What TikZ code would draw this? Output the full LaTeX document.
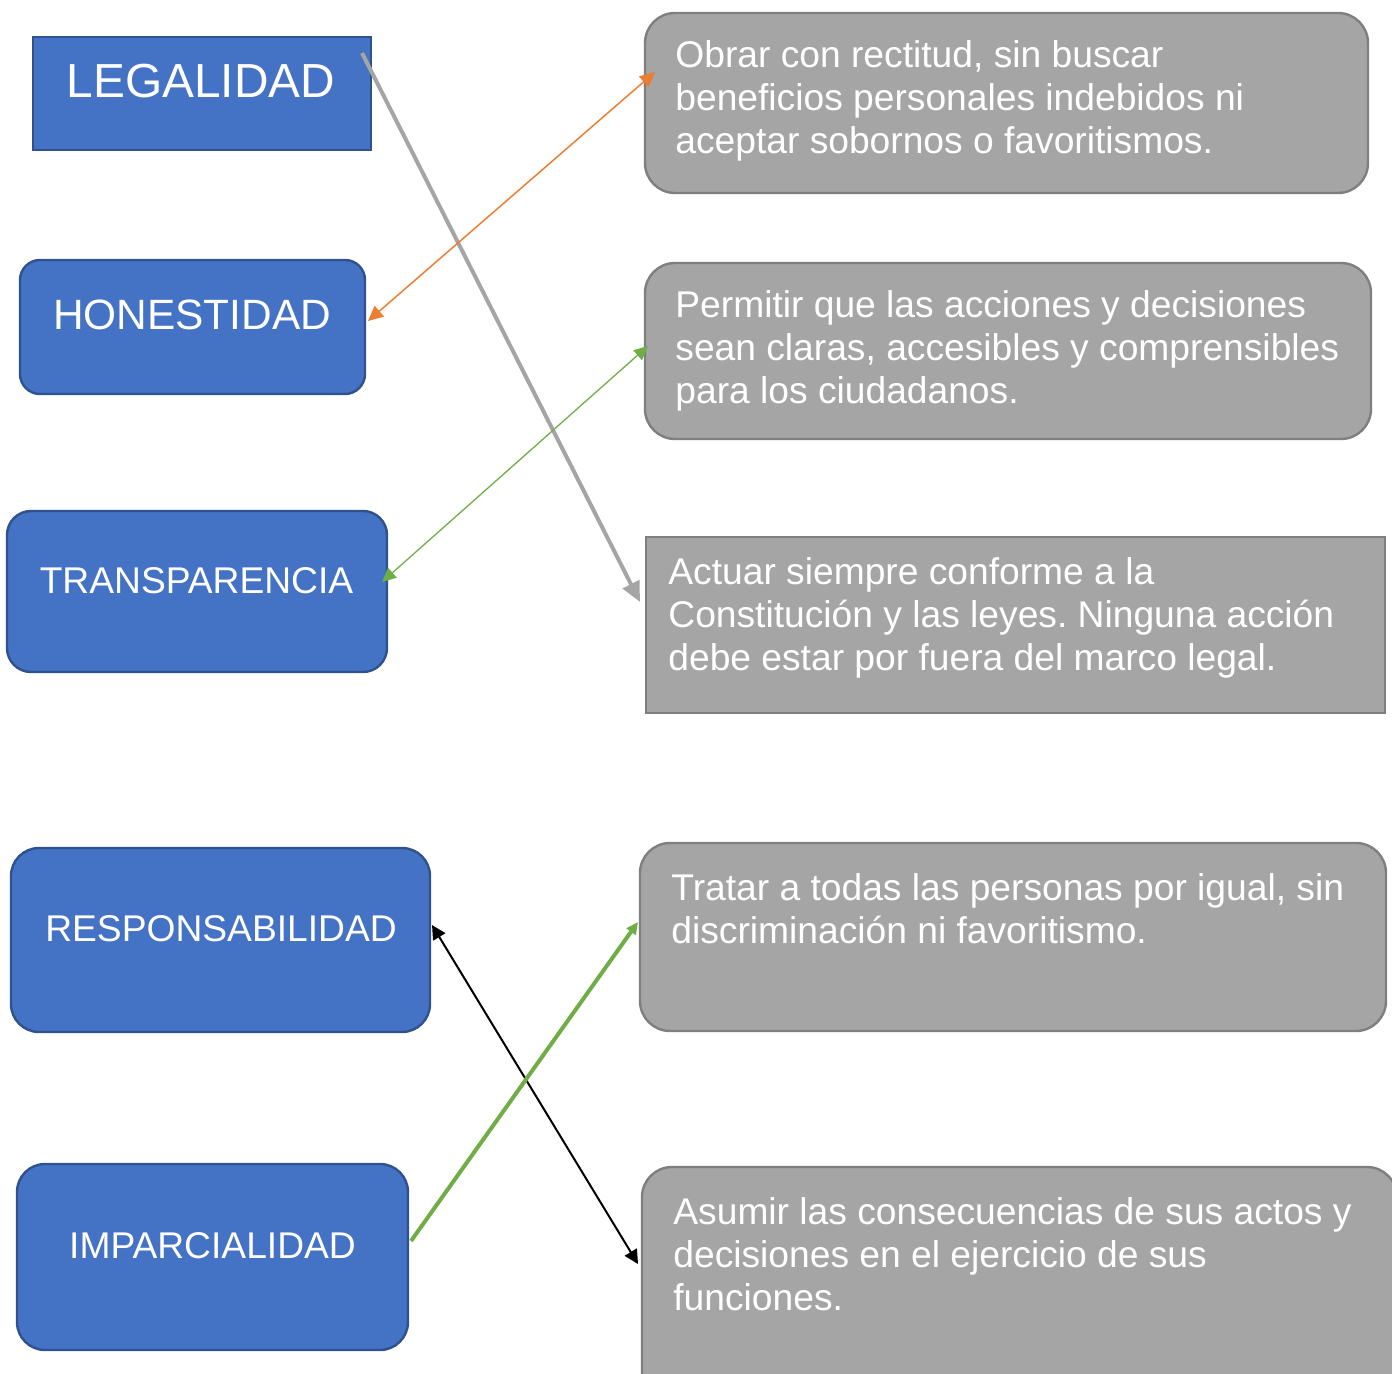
\documentclass[tikz,border=0pt]{standalone}
\usepackage{fontspec}
\setmainfont{Liberation Sans}
\usetikzlibrary{arrows.meta}
\frenchspacing
\definecolor{bfill}{HTML}{4472C4}
\definecolor{bdraw}{HTML}{2F528F}
\definecolor{gfill}{HTML}{A5A5A5}
\definecolor{gdraw}{HTML}{7F7F7F}
\definecolor{orng}{HTML}{ED7D31}
\definecolor{grn}{HTML}{70AD47}
\tikzset{
  bluebox/.style={fill=bfill,draw=bdraw,line width=1.2pt},
  graybox/.style={fill=gfill,draw=gdraw,line width=1.2pt},
  bluetext/.style={text=white,inner sep=0pt,anchor=base},
  graytext/.style={text=white,inner sep=0pt,anchor=base west,align=left,font=\fontsize{18.6}{21.5}\selectfont},
}
\begin{document}
\begin{tikzpicture}[x=0.5pt,y=-0.5pt]
\useasboundingbox (0,0) rectangle (1392,1374);
\begin{scope}
\clip (0,0) rectangle (1392,1374);
% blue boxes
\draw[bluebox] (33,37) rectangle (371,150);
\draw[bluebox,rounded corners=10pt] (20,260) rectangle (365,394);
\draw[bluebox,rounded corners=12pt] (7,511) rectangle (387,672);
\draw[bluebox,rounded corners=14pt] (11,848) rectangle (430,1032);
\draw[bluebox,rounded corners=14pt] (17,1164) rectangle (408,1350);
% gray boxes
\draw[graybox,rounded corners=15pt] (645,13) rectangle (1368,193);
\draw[graybox,rounded corners=15pt] (645,263) rectangle (1371,439);
\draw[graybox] (646,537) rectangle (1385,713);
\draw[graybox,rounded corners=15pt] (640,843) rectangle (1386,1031);
\draw[graybox,rounded corners=15pt] (642,1167) rectangle (1397,1420);
\end{scope}
% blue texts
\node[bluetext,font=\fontsize{23.9}{27}\selectfont] (leg) at (201,98) {LEGALIDAD};
\node[bluetext,font=\fontsize{21.2}{24}\selectfont] (hon) at (192,330) {HONESTIDAD};
\node[bluetext,font=\fontsize{18.6}{21.5}\selectfont] (tra) at (196.5,593) {TRANSPARENCIA};
\node[bluetext,font=\fontsize{18.6}{21.5}\selectfont] (res) at (221,941) {RESPONSABILIDAD};
\node[bluetext,font=\fontsize{18.6}{21.5}\selectfont] (imp) at (212.5,1258) {IMPARCIALIDAD};
% gray texts (anchor = baseline of last line)
\node[graytext] (d1) at (675,154) {Obrar con rectitud, sin buscar\\beneficios personales indebidos ni\\aceptar sobornos o favoritismos.};
\node[graytext] (d2) at (675,404) {Permitir que las acciones y decisiones\\sean claras, accesibles y comprensibles\\para los ciudadanos.};
\node[graytext] (d3) at (668,670) {Actuar siempre conforme a la\\Constitución y las leyes. Ninguna acción\\debe estar por fuera del marco legal.};
\node[graytext] (d4) at (671,943) {Tratar a todas las personas por igual, sin\\discriminación ni favoritismo.};
\node[graytext] (d5) at (673,1310) {Asumir las consecuencias de sus actos y\\decisiones en el ejercicio de sus\\funciones.};
% connector end points
\coordinate (legR) at (362,53);
\coordinate (d3L) at (640,602);
\coordinate (honR) at (368,321);
\coordinate (d1L) at (655,72);
\coordinate (traR) at (382,582);
\coordinate (d2L) at (648,346);
\coordinate (resR) at (432,925);
\coordinate (d5L) at (638,1264);
\coordinate (impR) at (411,1241);
\coordinate (d4L) at (638,922);
% connectors
\draw[gfill,line width=2pt,-{Triangle[length=10pt,width=9pt]}] (legR) -- (d3L);
\draw[orng,line width=0.75pt,{Triangle[length=7.5pt,width=7pt]}-{Triangle[length=7.5pt,width=7pt]}] (honR) -- (d1L);
\draw[grn,line width=0.65pt,{Triangle[length=7pt,width=6.5pt]}-{Triangle[length=7pt,width=6.5pt]}] (traR) -- (d2L);
\draw[black,line width=1pt,{Triangle[length=7pt,width=7pt]}-{Triangle[length=7pt,width=7pt]}] (resR) -- (d5L);
\draw[grn,line width=2pt,-{Triangle[length=6pt,width=5.5pt]}] (impR) -- (d4L);
\end{tikzpicture}
\end{document}
